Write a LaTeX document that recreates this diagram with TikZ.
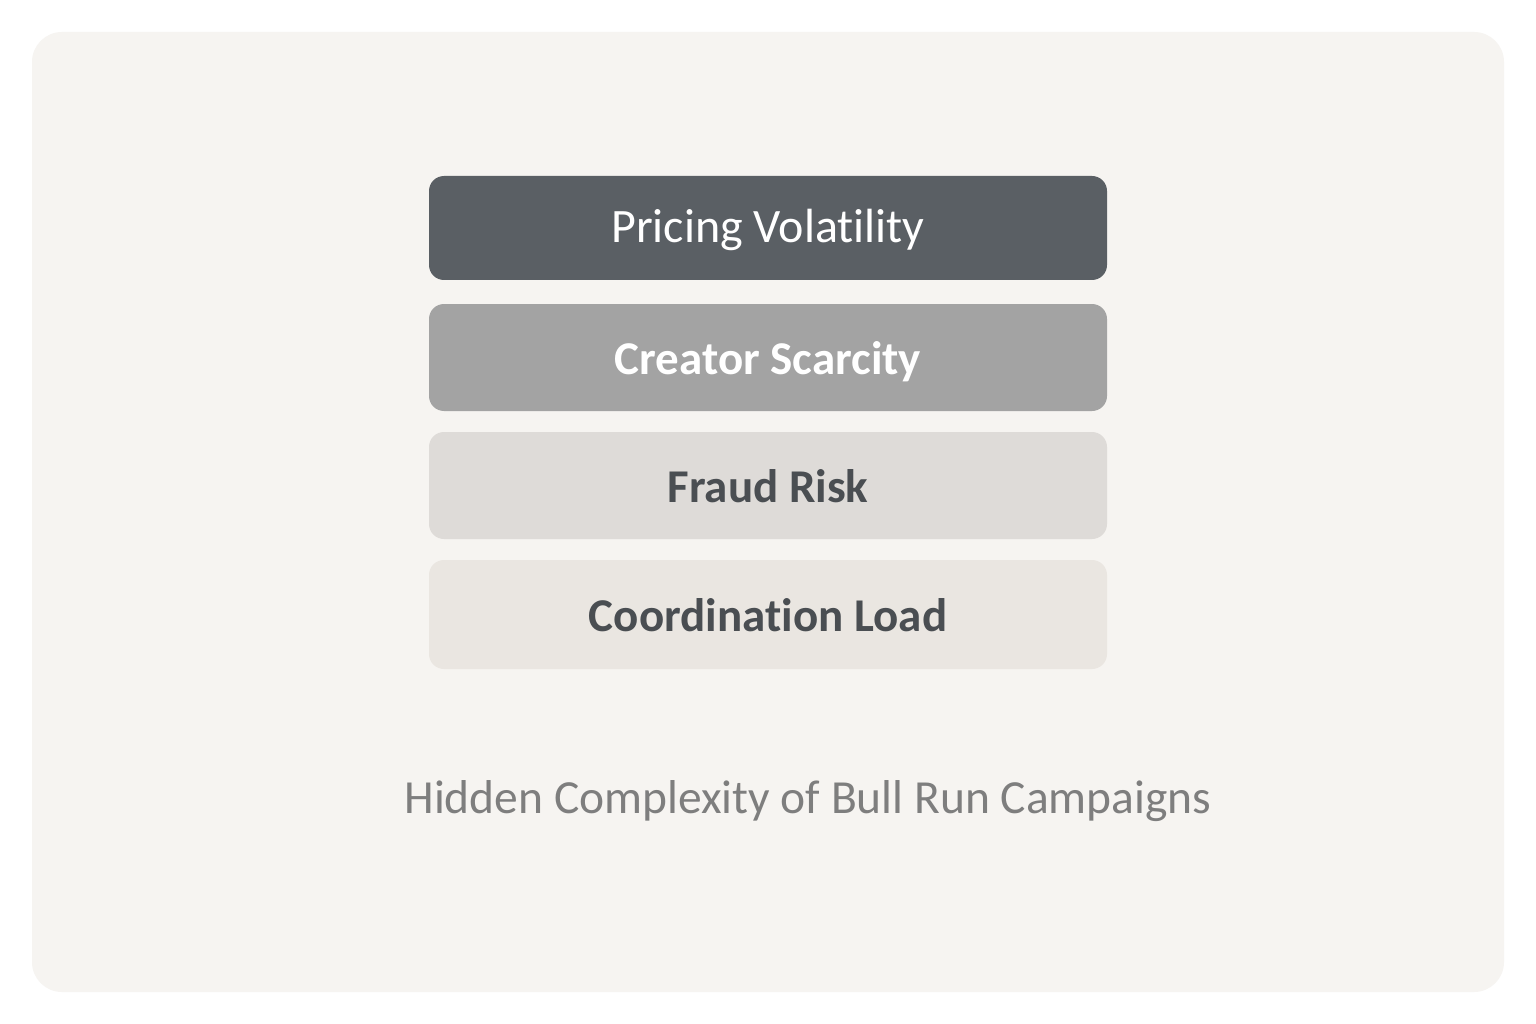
\documentclass[tikz,border=0pt]{standalone}
\usepackage{fontspec}
\setmainfont[Ligatures=NoCommon]{Carlito}
\begin{document}
\begin{tikzpicture}[x=1pt,y=-1pt]
\definecolor{panel}{HTML}{F6F4F1}
\definecolor{c1}{HTML}{5A5F64}
\definecolor{c2}{HTML}{A3A3A3}
\definecolor{c3}{HTML}{DEDBD8}
\definecolor{c4}{HTML}{EAE6E1}
\definecolor{darktext}{HTML}{4A4E52}
\definecolor{captext}{HTML}{7E7E7E}
\tikzset{
  layerbox/.style={rounded corners=15pt, minimum width=678pt, inner sep=0pt, text height=33pt, text depth=0pt, font=\fontsize{47}{52}\selectfont\bfseries},
}
\useasboundingbox (0,0) rectangle (1536,1024);
\fill[white] (0,0) rectangle (1536,1024);
\fill[panel, rounded corners=30pt] (32,32) rectangle (1504,992);
\node[layerbox, fill=c1, text=white, minimum height=104pt, text height=30pt, font=\fontsize{48}{52}\selectfont] (pv) at (768,228) {Pricing Volatility};
\node[layerbox, fill=c2, text=white, minimum height=107pt] (cs) at (768,357.5) {Creator Scarcity};
\node[layerbox, fill=c3, text=darktext, minimum height=107pt] (fr) at (768,485.5) {Fraud Risk};
\node[layerbox, fill=c4, text=darktext, minimum height=109pt] (cl) at (768,614.5) {Coordination Load};
\node[text=captext, anchor=base, inner sep=0pt, font=\fontsize{47.5}{52}\selectfont] (cap) at (808,813) {Hidden Complexity of Bull Run Campaigns};
\end{tikzpicture}
\end{document}
